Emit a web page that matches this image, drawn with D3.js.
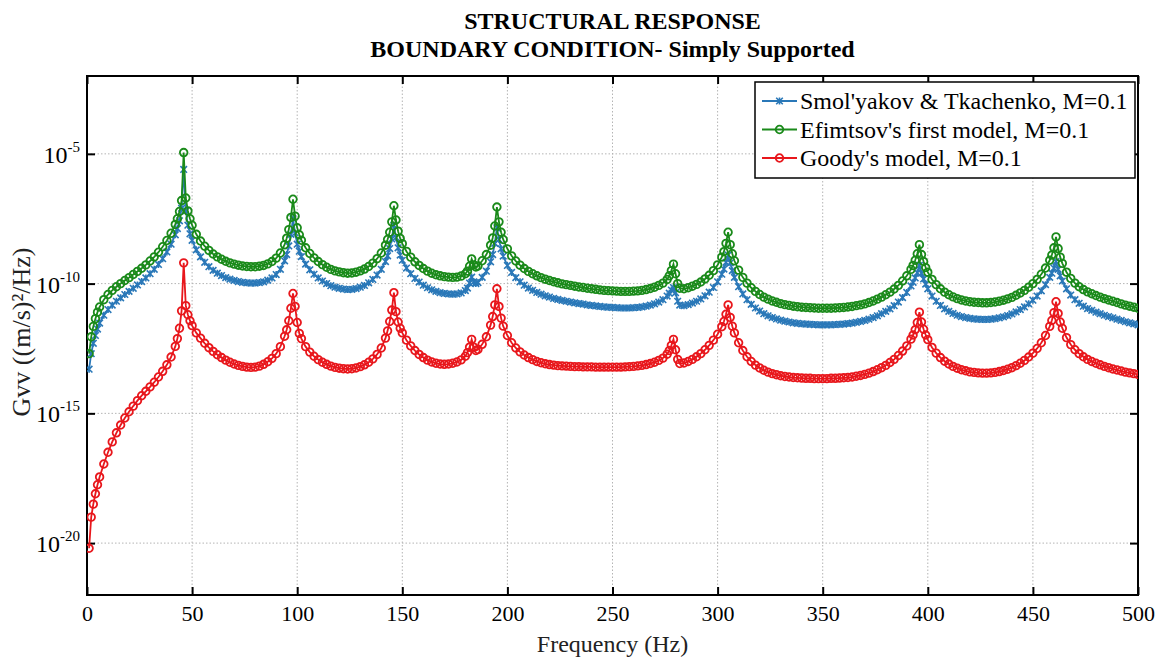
<!DOCTYPE html>
<html>
<head>
<meta charset="utf-8">
<script src="https://cdn.jsdelivr.net/npm/d3@7"></script>
<style>
  body { margin: 0; background: #fff; }
  svg { display: block; font-family: "Liberation Serif", "Times New Roman", serif; }
</style>
</head>
<body>
<svg id="chart" width="1169" height="657"></svg>
<script>
const width = 1169;
const height = 657;

// Titles, legend labels and axis ticks
const titleLines = ["STRUCTURAL RESPONSE", "BOUNDARY CONDITION- Simply Supported"];
const seriesNames = ["Smol'yakov & Tkachenko, M=0.1", "Efimtsov's first model, M=0.1", "Goody's model, M=0.1"];
const xTicks = [0, 50, 100, 150, 200, 250, 300, 350, 400, 450, 500];
const yTickExps = [-20, -15, -10, -5];

// [frequency Hz, log10 of Gvv]
const smolyakov = [
  [1,-13.3],[2,-12.7],[3,-12.3],[4,-12.0],[5,-11.75],[6,-11.52],[8,-11.22],[10,-11.0],[12,-10.83],[14,-10.68],
  [16,-10.55],[18,-10.42],[20,-10.3],[22,-10.18],[24,-10.05],[26,-9.92],[28,-9.78],[30,-9.62],[32,-9.45],[34,-9.26],
  [36,-9.04],[38,-8.78],[40,-8.48],[42,-8.12],[43,-7.88],[44,-7.58],[45,-7.1],[46,-5.6],[47,-7.2],[48,-7.75],
  [49,-8.08],[50,-8.33],[52,-8.7],[54,-8.97],[56,-9.18],[58,-9.35],[60,-9.49],[62,-9.6],[64,-9.69],[66,-9.77],
  [68,-9.83],[70,-9.88],[72,-9.92],[74,-9.95],[76,-9.97],[78,-9.98],[80,-9.98],[82,-9.96],[84,-9.93],[86,-9.87],
  [88,-9.78],[90,-9.65],[92,-9.45],[94,-9.12],[95,-8.88],[96,-8.55],[97,-8.1],[98,-7.5],[99,-8.05],[100,-8.48],
  [101,-8.75],[102,-8.96],[104,-9.25],[106,-9.47],[108,-9.64],[110,-9.78],[112,-9.9],[114,-10.0],[116,-10.08],[118,-10.14],
  [120,-10.18],[122,-10.21],[124,-10.23],[126,-10.22],[128,-10.19],[130,-10.14],[132,-10.07],[134,-9.97],[136,-9.84],[138,-9.67],
  [140,-9.45],[142,-9.15],[143,-8.93],[144,-8.65],[145,-8.28],[146,-7.75],[147,-8.22],[148,-8.62],[149,-8.9],[150,-9.1],
  [152,-9.4],[154,-9.62],[156,-9.8],[158,-9.94],[160,-10.06],[162,-10.16],[164,-10.24],[166,-10.3],[168,-10.35],[170,-10.38],
  [172,-10.4],[174,-10.41],[176,-10.4],[178,-10.36],[180,-10.27],[181,-10.17],[182,-9.98],[183,-9.75],[184,-9.93],[185,-10.0],
  [186,-9.96],[188,-9.76],[190,-9.52],[192,-9.16],[193,-8.88],[194,-8.45],[195,-7.85],[196,-8.3],[197,-8.66],[198,-8.94],
  [200,-9.3],[202,-9.57],[204,-9.77],[206,-9.93],[208,-10.06],[210,-10.17],[212,-10.26],[214,-10.34],[216,-10.41],[218,-10.47],
  [220,-10.52],[222,-10.57],[224,-10.61],[226,-10.65],[228,-10.68],[230,-10.71],[232,-10.74],[234,-10.77],[236,-10.79],[238,-10.82],
  [240,-10.84],[242,-10.86],[244,-10.88],[246,-10.9],[248,-10.91],[250,-10.92],[252,-10.93],[254,-10.94],[256,-10.94],[258,-10.94],
  [260,-10.93],[262,-10.92],[264,-10.9],[266,-10.87],[268,-10.83],[270,-10.78],[272,-10.71],[274,-10.62],[276,-10.48],[277,-10.37],
  [278,-10.25],[279,-10.15],[280,-10.35],[281,-10.68],[282,-10.83],[284,-10.85],[286,-10.81],[288,-10.75],[290,-10.68],[292,-10.59],
  [294,-10.47],[296,-10.33],[298,-10.15],[300,-9.93],[302,-9.64],[303,-9.44],[304,-9.18],[305,-8.9],[306,-9.2],[307,-9.5],
  [308,-9.76],[310,-10.12],[312,-10.4],[314,-10.62],[316,-10.8],[318,-10.94],[320,-11.06],[322,-11.16],[324,-11.24],[326,-11.31],
  [328,-11.36],[330,-11.41],[332,-11.45],[334,-11.48],[336,-11.51],[338,-11.53],[340,-11.55],[342,-11.56],[344,-11.57],[346,-11.58],
  [348,-11.59],[350,-11.59],[352,-11.59],[354,-11.59],[356,-11.58],[358,-11.57],[360,-11.56],[362,-11.54],[364,-11.52],[366,-11.49],
  [368,-11.46],[370,-11.42],[372,-11.37],[374,-11.31],[376,-11.24],[378,-11.16],[380,-11.07],[382,-10.97],[384,-10.85],[386,-10.71],
  [388,-10.54],[390,-10.34],[392,-10.09],[393,-9.95],[394,-9.78],[395,-9.58],[396,-9.3],[397,-9.6],[398,-9.82],[399,-10.02],
  [400,-10.2],[402,-10.48],[404,-10.68],[406,-10.84],[408,-10.97],[410,-11.07],[412,-11.15],[414,-11.22],[416,-11.27],[418,-11.31],
  [420,-11.34],[422,-11.36],[424,-11.37],[426,-11.38],[428,-11.38],[430,-11.37],[432,-11.35],[434,-11.32],[436,-11.28],[438,-11.23],
  [440,-11.17],[442,-11.09],[444,-11.0],[446,-10.9],[448,-10.78],[450,-10.64],[452,-10.48],[454,-10.28],[456,-10.04],[458,-9.76],
  [459,-9.6],[460,-9.4],[461,-9.15],[462,-9.45],[463,-9.7],[464,-9.9],[466,-10.2],[468,-10.44],[470,-10.62],[472,-10.76],
  [474,-10.87],[476,-10.96],[478,-11.03],[480,-11.1],[482,-11.16],[484,-11.22],[486,-11.27],[488,-11.32],[490,-11.37],[492,-11.42],
  [494,-11.47],[496,-11.51],[498,-11.55],[500,-11.59]
];

const efimtsov = [
  [1,-12.7],[2,-12.05],[3,-11.65],[4,-11.35],[5,-11.1],[6,-10.9],[8,-10.62],[10,-10.42],[12,-10.26],[14,-10.12],
  [16,-10.0],[18,-9.88],[20,-9.77],[22,-9.65],[24,-9.53],[26,-9.41],[28,-9.28],[30,-9.13],[32,-8.97],[34,-8.79],
  [36,-8.58],[38,-8.34],[40,-8.06],[42,-7.72],[43,-7.5],[44,-7.22],[45,-6.8],[46,-4.95],[47,-6.7],[48,-7.2],
  [49,-7.5],[50,-7.75],[52,-8.1],[54,-8.36],[56,-8.56],[58,-8.72],[60,-8.86],[62,-8.97],[64,-9.06],[66,-9.14],
  [68,-9.2],[70,-9.25],[72,-9.29],[74,-9.32],[76,-9.34],[78,-9.35],[80,-9.35],[82,-9.33],[84,-9.3],[86,-9.24],
  [88,-9.15],[90,-9.02],[92,-8.82],[94,-8.5],[95,-8.25],[96,-7.92],[97,-7.45],[98,-6.75],[99,-7.4],[100,-7.85],
  [101,-8.12],[102,-8.33],[104,-8.62],[106,-8.84],[108,-9.01],[110,-9.15],[112,-9.27],[114,-9.37],[116,-9.45],[118,-9.51],
  [120,-9.55],[122,-9.58],[124,-9.6],[126,-9.59],[128,-9.56],[130,-9.51],[132,-9.44],[134,-9.34],[136,-9.21],[138,-9.04],
  [140,-8.82],[142,-8.52],[143,-8.3],[144,-8.02],[145,-7.62],[146,-7.0],[147,-7.55],[148,-7.98],[149,-8.26],[150,-8.46],
  [152,-8.76],[154,-8.98],[156,-9.16],[158,-9.3],[160,-9.42],[162,-9.52],[164,-9.6],[166,-9.66],[168,-9.7],[170,-9.73],
  [172,-9.75],[174,-9.76],[176,-9.75],[178,-9.71],[180,-9.62],[181,-9.52],[182,-9.33],[183,-9.05],[184,-9.28],[185,-9.36],
  [186,-9.32],[188,-9.12],[190,-8.88],[192,-8.52],[193,-8.24],[194,-7.78],[195,-7.05],[196,-7.62],[197,-8.02],[198,-8.3],
  [200,-8.66],[202,-8.93],[204,-9.13],[206,-9.29],[208,-9.42],[210,-9.53],[212,-9.62],[214,-9.7],[216,-9.77],[218,-9.83],
  [220,-9.88],[222,-9.93],[224,-9.97],[226,-10.01],[228,-10.04],[230,-10.07],[232,-10.1],[234,-10.13],[236,-10.15],[238,-10.18],
  [240,-10.2],[242,-10.22],[244,-10.24],[246,-10.26],[248,-10.27],[250,-10.28],[252,-10.29],[254,-10.3],[256,-10.3],[258,-10.3],
  [260,-10.29],[262,-10.28],[264,-10.26],[266,-10.23],[268,-10.19],[270,-10.14],[272,-10.07],[274,-9.98],[276,-9.84],[277,-9.7],
  [278,-9.5],[279,-9.25],[280,-9.62],[281,-10.0],[282,-10.18],[284,-10.2],[286,-10.16],[288,-10.1],[290,-10.03],[292,-9.94],
  [294,-9.82],[296,-9.68],[298,-9.5],[300,-9.28],[302,-8.98],[303,-8.77],[304,-8.45],[305,-8.02],[306,-8.5],[307,-8.85],
  [308,-9.12],[310,-9.48],[312,-9.76],[314,-9.98],[316,-10.16],[318,-10.3],[320,-10.42],[322,-10.52],[324,-10.6],[326,-10.67],
  [328,-10.72],[330,-10.77],[332,-10.81],[334,-10.84],[336,-10.87],[338,-10.89],[340,-10.91],[342,-10.92],[344,-10.93],[346,-10.94],
  [348,-10.95],[350,-10.95],[352,-10.95],[354,-10.95],[356,-10.94],[358,-10.93],[360,-10.92],[362,-10.9],[364,-10.88],[366,-10.85],
  [368,-10.82],[370,-10.78],[372,-10.73],[374,-10.67],[376,-10.6],[378,-10.52],[380,-10.43],[382,-10.33],[384,-10.21],[386,-10.07],
  [388,-9.9],[390,-9.7],[392,-9.45],[393,-9.3],[394,-9.1],[395,-8.85],[396,-8.5],[397,-8.88],[398,-9.15],[399,-9.38],
  [400,-9.56],[402,-9.84],[404,-10.04],[406,-10.2],[408,-10.33],[410,-10.43],[412,-10.51],[414,-10.58],[416,-10.63],[418,-10.67],
  [420,-10.7],[422,-10.72],[424,-10.73],[426,-10.74],[428,-10.74],[430,-10.73],[432,-10.71],[434,-10.68],[436,-10.64],[438,-10.59],
  [440,-10.53],[442,-10.45],[444,-10.36],[446,-10.26],[448,-10.14],[450,-10.0],[452,-9.84],[454,-9.64],[456,-9.4],[458,-9.1],
  [459,-8.9],[460,-8.62],[461,-8.2],[462,-8.65],[463,-8.98],[464,-9.22],[466,-9.56],[468,-9.8],[470,-9.98],[472,-10.12],
  [474,-10.23],[476,-10.32],[478,-10.39],[480,-10.46],[482,-10.52],[484,-10.58],[486,-10.63],[488,-10.68],[490,-10.73],[492,-10.78],
  [494,-10.83],[496,-10.87],[498,-10.91],[500,-10.95]
];

const goody = [
  [1,-20.2],[2,-19.0],[3,-18.5],[4,-18.1],[5,-17.75],[6,-17.45],[8,-16.95],[10,-16.5],[12,-16.1],[14,-15.75],
  [16,-15.45],[18,-15.18],[20,-14.94],[22,-14.72],[24,-14.51],[26,-14.32],[28,-14.15],[30,-13.98],[32,-13.8],[34,-13.6],
  [36,-13.38],[38,-13.13],[40,-12.83],[42,-12.42],[43,-12.12],[44,-11.72],[45,-11.05],[46,-9.2],[47,-10.85],[48,-11.2],
  [49,-11.43],[50,-11.62],[52,-11.9],[54,-12.1],[56,-12.3],[58,-12.47],[60,-12.61],[62,-12.74],[64,-12.85],[66,-12.95],
  [68,-13.03],[70,-13.1],[72,-13.15],[74,-13.19],[76,-13.22],[78,-13.23],[80,-13.22],[82,-13.18],[84,-13.11],[86,-13.01],
  [88,-12.88],[90,-12.7],[92,-12.43],[94,-12.03],[95,-11.78],[96,-11.43],[97,-10.95],[98,-10.38],[99,-10.88],[100,-11.5],
  [101,-11.92],[102,-12.12],[104,-12.43],[106,-12.64],[108,-12.8],[110,-12.93],[112,-13.03],[114,-13.11],[116,-13.18],[118,-13.23],
  [120,-13.26],[122,-13.28],[124,-13.29],[126,-13.28],[128,-13.25],[130,-13.2],[132,-13.13],[134,-13.03],[136,-12.9],[138,-12.73],
  [140,-12.48],[142,-12.1],[143,-11.82],[144,-11.46],[145,-11.02],[146,-10.35],[147,-11.08],[148,-11.48],[149,-11.72],[150,-11.9],
  [152,-12.18],[154,-12.4],[156,-12.58],[158,-12.73],[160,-12.85],[162,-12.95],[164,-13.02],[166,-13.07],[168,-13.1],[170,-13.11],
  [172,-13.1],[174,-13.07],[176,-13.02],[178,-12.94],[180,-12.8],[181,-12.66],[182,-12.45],[183,-12.15],[184,-12.45],[185,-12.58],
  [186,-12.54],[188,-12.34],[190,-12.05],[192,-11.6],[193,-11.27],[194,-10.82],[195,-10.2],[196,-10.88],[197,-11.33],[198,-11.64],
  [200,-12.0],[202,-12.28],[204,-12.48],[206,-12.63],[208,-12.75],[210,-12.85],[212,-12.93],[214,-13.0],[216,-13.05],[218,-13.09],
  [220,-13.12],[222,-13.14],[224,-13.16],[226,-13.17],[228,-13.18],[230,-13.19],[232,-13.2],[234,-13.2],[236,-13.21],[238,-13.21],
  [240,-13.21],[242,-13.22],[244,-13.22],[246,-13.22],[248,-13.22],[250,-13.22],[252,-13.22],[254,-13.22],[256,-13.21],[258,-13.2],
  [260,-13.19],[262,-13.17],[264,-13.15],[266,-13.12],[268,-13.08],[270,-13.03],[272,-12.96],[274,-12.87],[276,-12.72],[277,-12.58],
  [278,-12.38],[279,-12.15],[280,-12.55],[281,-12.92],[282,-13.08],[284,-13.06],[286,-13.0],[288,-12.92],[290,-12.82],[292,-12.7],
  [294,-12.55],[296,-12.38],[298,-12.18],[300,-11.95],[302,-11.66],[303,-11.46],[304,-11.18],[305,-10.82],[306,-11.3],[307,-11.64],
  [308,-11.9],[310,-12.28],[312,-12.58],[314,-12.82],[316,-13.0],[318,-13.14],[320,-13.25],[322,-13.34],[324,-13.41],[326,-13.47],
  [328,-13.51],[330,-13.55],[332,-13.58],[334,-13.6],[336,-13.62],[338,-13.63],[340,-13.64],[342,-13.65],[344,-13.65],[346,-13.66],
  [348,-13.66],[350,-13.66],[352,-13.66],[354,-13.65],[356,-13.65],[358,-13.64],[360,-13.63],[362,-13.62],[364,-13.6],[366,-13.57],
  [368,-13.54],[370,-13.5],[372,-13.45],[374,-13.39],[376,-13.32],[378,-13.24],[380,-13.15],[382,-13.04],[384,-12.92],[386,-12.77],
  [388,-12.6],[390,-12.4],[392,-12.14],[393,-11.98],[394,-11.78],[395,-11.5],[396,-11.1],[397,-11.48],[398,-11.76],[399,-11.98],
  [400,-12.16],[402,-12.46],[404,-12.68],[406,-12.85],[408,-12.99],[410,-13.1],[412,-13.19],[414,-13.26],[416,-13.32],[418,-13.36],
  [420,-13.4],[422,-13.42],[424,-13.44],[426,-13.45],[428,-13.45],[430,-13.44],[432,-13.42],[434,-13.39],[436,-13.35],[438,-13.3],
  [440,-13.24],[442,-13.16],[444,-13.07],[446,-12.96],[448,-12.83],[450,-12.68],[452,-12.5],[454,-12.28],[456,-12.0],[458,-11.65],
  [459,-11.42],[460,-11.12],[461,-10.7],[462,-11.15],[463,-11.48],[464,-11.72],[466,-12.08],[468,-12.35],[470,-12.55],[472,-12.7],
  [474,-12.82],[476,-12.92],[478,-13.0],[480,-13.07],[482,-13.13],[484,-13.19],[486,-13.24],[488,-13.29],[490,-13.33],[492,-13.37],
  [494,-13.41],[496,-13.44],[498,-13.47],[500,-13.5]
];

const seriesColors = ["#2a78b8", "#1a8a1a", "#e8171c"];
const seriesMarkers = ["x", "o", "o"];

// Plot area
const plotLeft = 87, plotRight = 1138, plotTop = 76, plotBottom = 595;

const svg = d3.select("#chart");
svg.append("rect").attr("width", width).attr("height", height).attr("fill", "#fff");

const x = d3.scaleLinear().domain([0, 500]).range([plotLeft, plotRight]);
const y = d3.scaleLog().domain([1e-22, 1e-2]).range([plotBottom, plotTop]);
const yTicks = yTickExps.map(e => Math.pow(10, e));

// Gridlines (dotted)
const grid = svg.append("g").attr("stroke", "#b4b4b4").attr("stroke-width", 1).attr("stroke-dasharray", "1.5,2");
grid.selectAll(".gx").data(xTicks.slice(1, -1)).join("line")
    .attr("x1", d => x(d)).attr("x2", d => x(d)).attr("y1", plotTop).attr("y2", plotBottom);
grid.selectAll(".gy").data(yTicks).join("line")
    .attr("x1", plotLeft).attr("x2", plotRight).attr("y1", d => y(d)).attr("y2", d => y(d));

// Axes with inward ticks
const axisStyle = g => {
  g.select(".domain").remove();
  g.selectAll(".tick line").attr("stroke", "#000").attr("stroke-width", 2);
};
svg.append("g").attr("transform", `translate(0,${plotBottom})`)
    .call(d3.axisBottom(x).tickValues(xTicks).tickSize(-8).tickPadding(10).tickFormat(d3.format("d")))
    .call(axisStyle)
    .call(g => g.selectAll(".tick text").attr("font-size", 22).attr("font-family", "Liberation Serif").attr("fill", "#000"));
svg.append("g").attr("transform", `translate(0,${plotTop})`)
    .call(d3.axisTop(x).tickValues(xTicks).tickSize(-8).tickFormat(""))
    .call(axisStyle);
svg.append("g").attr("transform", `translate(${plotRight},0)`)
    .call(d3.axisRight(y).tickValues(yTicks).tickSize(-8).tickFormat(""))
    .call(axisStyle);
svg.append("g").attr("transform", `translate(${plotLeft},0)`)
    .call(d3.axisLeft(y).tickValues(yTicks).tickSize(-8).tickFormat(""))
    .call(axisStyle)
    .call(g => g.selectAll(".tick").each(function(d) {
      const t = d3.select(this).append("text")
          .attr("x", -7).attr("dy", "0.35em").attr("text-anchor", "end")
          .attr("font-family", "Liberation Serif").attr("fill", "#000").attr("font-size", 24);
      t.append("tspan").text("10");
      t.append("tspan").attr("font-size", 15).attr("dy", -11).text(String(Math.round(Math.log10(d))));
    }));

// Plot frame
svg.append("rect")
    .attr("x", plotLeft).attr("y", plotTop).attr("width", plotRight - plotLeft).attr("height", plotBottom - plotTop)
    .attr("fill", "none").attr("stroke", "#000").attr("stroke-width", 2);

// Series
svg.append("clipPath").attr("id", "clip").append("rect")
    .attr("x", plotLeft).attr("y", plotTop).attr("width", plotRight - plotLeft).attr("height", plotBottom - plotTop);
const plot = svg.append("g").attr("clip-path", "url(#clip)");

const line = d3.line().x(d => x(d[0])).y(d => y(Math.pow(10, d[1])));

function drawMarker(g, kind, color) {
  if (kind === "o") {
    g.append("circle").attr("r", 3.8).attr("fill", "none").attr("stroke", color).attr("stroke-width", 1.8);
  } else {
    g.append("path").attr("d", "M-3.3,-3.3L3.3,3.3M-3.3,3.3L3.3,-3.3M0,-3.5L0,3.5").attr("stroke", color).attr("stroke-width", 1.6);
  }
}

[smolyakov, efimtsov, goody].forEach((data, i) => {
  const color = seriesColors[i];
  plot.append("path").datum(data)
      .attr("fill", "none").attr("stroke", color).attr("stroke-width", 1.8).attr("d", line);
  plot.append("g").selectAll("g").data(data).join("g")
      .attr("transform", d => `translate(${x(d[0])},${y(Math.pow(10, d[1]))})`)
      .each(function() { drawMarker(d3.select(this), seriesMarkers[i], color); });
});

// Legend
const legend = svg.append("g").attr("transform", "translate(755,82)");
legend.append("rect").attr("width", 380).attr("height", 96)
    .attr("fill", "#fff").attr("stroke", "#000").attr("stroke-width", 1.5);
seriesNames.forEach((name, i) => {
  const row = legend.append("g").attr("transform", `translate(0,${19 + i * 28.5})`);
  row.append("line").attr("x1", 7).attr("x2", 42).attr("stroke", seriesColors[i]).attr("stroke-width", 1.8);
  drawMarker(row.append("g").attr("transform", "translate(24.5,0)"), seriesMarkers[i], seriesColors[i]);
  row.append("text").attr("x", 45).attr("dy", "0.35em")
      .attr("font-size", 24).attr("fill", "#000").text(name);
});

// Titles and axis labels
svg.append("g").attr("font-weight", "bold").attr("font-size", 24).attr("text-anchor", "middle")
  .selectAll("text").data(titleLines).join("text")
    .attr("x", (plotLeft + plotRight) / 2).attr("y", (d, i) => 29 + i * 28).text(d => d);

svg.append("text").attr("x", (plotLeft + plotRight) / 2).attr("y", 652).attr("text-anchor", "middle")
    .attr("font-size", 24).attr("fill", "#222").text("Frequency (Hz)");

svg.append("text").attr("transform", "translate(30,332) rotate(-90)").attr("text-anchor", "middle")
    .attr("font-size", 26).attr("fill", "#222").text("Gvv ((m/s)²/Hz)");
</script>
</body>
</html>
